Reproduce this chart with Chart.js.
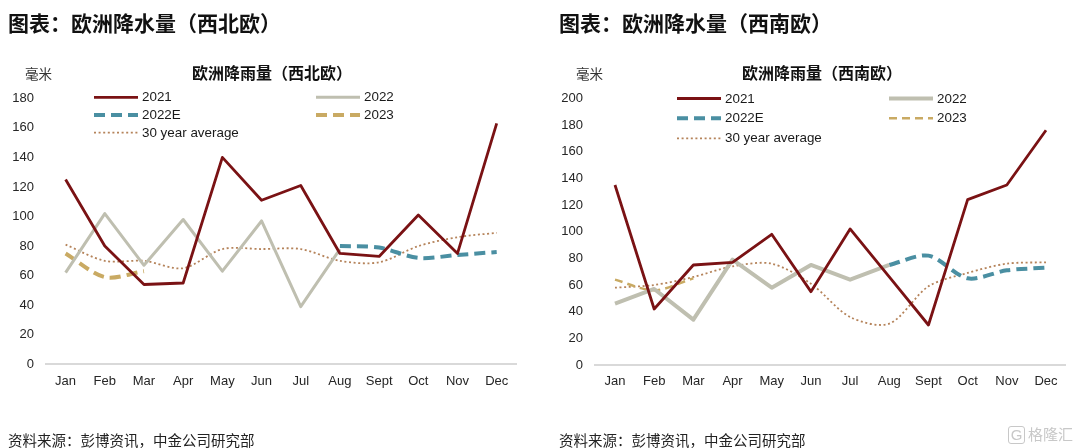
<!DOCTYPE html>
<html>
<head>
<meta charset="utf-8">
<script src="https://cdn.jsdelivr.net/npm/chart.js@4"></script>
<style>
  body { margin: 0; background: #fff; }
  #wrap { position: relative; width: 1080px; height: 448px; overflow: hidden; }
  canvas { position: absolute; top: 0; }
  .txt { position: absolute; white-space: nowrap; color: #111; font-family: "Noto Sans CJK SC", "Liberation Sans", sans-serif; z-index: 2; }
  .main { font-size: 21px; font-weight: bold; line-height: 21px; top: 12px; }
  .sub { font-size: 16px; font-weight: bold; line-height: 16px; top: 64px; transform: translateX(-50%); }
  .unit { font-size: 13.5px; line-height: 14px; top: 66px; color: #333; }
  .src { font-size: 14.5px; line-height: 15px; top: 432px; color: #222; }
  .wm { font-size: 15px; line-height: 16px; top: 426px; left: 1008px; color: #c8c8c8; }
  .wm b { display: inline-block; border: 1.5px solid #c8c8c8; border-radius: 3px; width: 15px; text-align: center; font-weight: normal; margin-right: 3px; font-family: "Liberation Sans", sans-serif; }
</style>
</head>
<body>
<div id="wrap">
  <canvas id="nwChart" width="540" height="448" style="left:0"></canvas>
  <canvas id="swChart" width="540" height="448" style="left:540px"></canvas>

  <div class="txt main" style="left:8px">图表：欧洲降水量（西北欧）</div>
  <div class="txt main" style="left:559px">图表：欧洲降水量（西南欧）</div>
  <div class="txt unit" style="left:25px">毫米</div>
  <div class="txt unit" style="left:576px">毫米</div>
  <div class="txt sub" style="left:272px">欧洲降雨量（西北欧）</div>
  <div class="txt sub" style="left:822px">欧洲降雨量（西南欧）</div>
  <div class="txt src" style="left:8px">资料来源：彭博资讯，中金公司研究部</div>
  <div class="txt src" style="left:559px">资料来源：彭博资讯，中金公司研究部</div>
  <div class="txt wm"><b>G</b>格隆汇</div>
</div>

<script>
// months
var months = ["Jan", "Feb", "Mar", "Apr", "May", "Jun", "Jul", "Aug", "Sept", "Oct", "Nov", "Dec"];

// series names
var seriesNames = ["2021", "2022", "2022E", "2023", "30 year average"];

// north west europe (mm)
var nw2021 = [125, 80, 54, 55, 140, 111, 121, 75, 73, 101, 75, 163];
var nw2022 = [62, 102, 67, 98, 63, 97, 39, 78, null, null, null, null];
var nw2022E = [null, null, null, null, null, null, null, 80, 79, 72, 74, 76];
var nw2023 = [75, 59, 63, null, null, null, null, null, null, null, null, null];
var nwAvg = [81, 70, 70, 65, 78, 78, 78, 70, 69, 80, 86, 89];
var nwTicks = [0, 20, 40, 60, 80, 100, 120, 140, 160, 180];

// south west europe (mm)
var sw2021 = [135, 42, 75, 77, 98, 55, 102, 66, 30, 124, 135, 176];
var sw2022 = [46, 57, 34, 79, 58, 75, 64, 75, null, null, null, null];
var sw2022E = [null, null, null, null, null, null, null, 75, 82, 65, 71, 73];
var sw2023 = [64, 56, 65, null, null, null, null, null, null, null, null, null];
var swAvg = [58, 60, 66, 74, 76, 61, 36, 31, 59, 69, 76, 77];
var swTicks = [0, 20, 40, 60, 80, 100, 120, 140, 160, 180, 200];

var fontFam = "'Liberation Sans', Arial, sans-serif";

// legend drawn in two columns, like the excel one
function legendPlugin(pos) {
  return {
    id: "twoColLegend",
    afterDraw: function (chart) {
      var ctx = chart.ctx;
      var sets = chart.data.datasets;
      for (var i = 0; i < sets.length; i++) {
        var ds = sets[i];
        var col = i % 2;
        var row = Math.floor(i / 2);
        var x = pos.cols[col];
        var y = pos.rows[row];
        ctx.save();
        ctx.strokeStyle = ds.borderColor;
        ctx.lineWidth = ds.borderWidth;
        ctx.setLineDash(ds.borderDash || []);
        ctx.lineCap = "butt";
        ctx.beginPath();
        ctx.moveTo(x, y);
        ctx.lineTo(x + 44, y);
        ctx.stroke();
        ctx.setLineDash([]);
        ctx.fillStyle = "#1a1a1a";
        ctx.font = "13.4px " + fontFam;
        ctx.textBaseline = "middle";
        ctx.fillText(ds.label, x + 48, y + 0.5);
        ctx.restore();
      }
    },
  };
}

function makeSets(a, b, c, d, e, big) {
  return [
    { label: seriesNames[0], data: a, borderColor: "#7a1214", borderWidth: 2.8, tension: 0 },
    { label: seriesNames[1], data: b, borderColor: "#bfbfb0", borderWidth: big ? 4 : 3, tension: 0 },
    { label: seriesNames[2], data: c, borderColor: "#4a8fa2", borderWidth: 4, borderDash: [11, 6], tension: 0.3 },
    { label: seriesNames[3], data: d, borderColor: "#c9aa63", borderWidth: big ? 2.5 : 4, borderDash: big ? [8, 5] : [11, 6], tension: 0.3 },
    { label: seriesNames[4], data: e, borderColor: "#b5835a", borderWidth: 1.8, borderDash: [2, 2.6], tension: 0.3 },
  ];
}

function drawChart(id, sets, ticks, yMax, box, legendPos) {
  var ctx = document.getElementById(id).getContext("2d");
  new Chart(ctx, {
    type: "line",
    data: { labels: months, datasets: sets },
    options: {
      responsive: false,
      maintainAspectRatio: false,
      animation: false,
      layout: { padding: { left: 0, right: box.right, top: box.top, bottom: box.bottom } },
      elements: {
        point: { radius: 0, hoverRadius: 0 },
        line: { borderJoinStyle: "round", borderCapStyle: "butt", fill: false },
      },
      plugins: { legend: { display: false }, tooltip: { enabled: false }, title: { display: false } },
      scales: {
        x: {
          offset: true,
          grid: { display: false, drawTicks: false },
          border: { display: true, color: "#d9d9d9", width: 2 },
          ticks: { color: "#262626", font: { family: fontFam, size: 13 }, padding: 9, maxRotation: 0, autoSkip: false },
          afterFit: function (s) { s.height = 30; },
        },
        y: {
          min: 0,
          max: yMax,
          grid: { display: false, drawTicks: false },
          border: { display: false },
          ticks: { color: "#262626", font: { family: fontFam, size: 13 }, padding: box.tickPad },
          afterBuildTicks: function (s) {
            s.ticks = ticks.map(function (v) { return { value: v }; });
          },
          afterFit: function (s) { s.width = box.left; },
        },
      },
    },
    plugins: [legendPlugin(legendPos)],
  });
}

drawChart(
  "nwChart",
  makeSets(nw2021, nw2022, nw2022E, nw2023, nwAvg, false),
  nwTicks, 180,
  { left: 46, right: 23.7, top: 98.3, bottom: 53.7, tickPad: 12 },
  { cols: [94, 316], rows: [97.3, 115, 132.7] }
);

drawChart(
  "swChart",
  makeSets(sw2021, sw2022, sw2022E, sw2023, swAvg, true),
  swTicks, 200,
  { left: 55.4, right: 14.4, top: 98.3, bottom: 53, tickPad: 12.4 },
  { cols: [137, 349], rows: [98.5, 118.3, 138.3] }
);
</script>
</body>
</html>
